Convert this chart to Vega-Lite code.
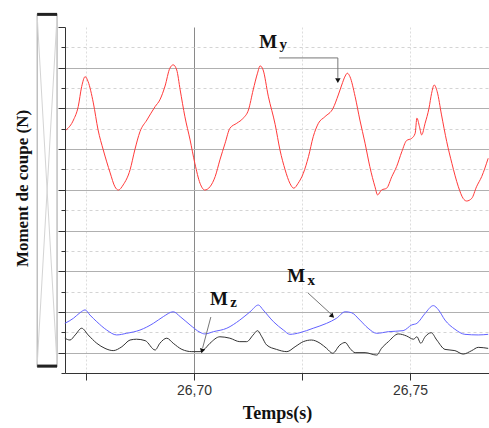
{
  "$schema": "https://vega.github.io/schema/vega-lite/v6.json",
  "width": 424,
  "height": 346,
  "autosize": {"type": "none"},
  "padding": {"left": 65, "top": 27, "right": 0, "bottom": 55},
  "background": "white",
  "config": {"view": {"stroke": null}},
  "datasets": {
    "curves": [
      {"s":"My","t":26.6704,"v":11.94},{"s":"My","t":26.6721,"v":12.43},{"s":"My","t":26.6732,"v":13.09},{"s":"My","t":26.674,"v":14.07},{"s":"My","t":26.6748,"v":14.56},{"s":"My","t":26.6755,"v":14.31},{"s":"My","t":26.6767,"v":13.27},{"s":"My","t":26.6778,"v":11.94},{"s":"My","t":26.679,"v":10.96},{"s":"My","t":26.6806,"v":9.83},{"s":"My","t":26.6817,"v":9.15},{"s":"My","t":26.6825,"v":8.99},{"s":"My","t":26.6836,"v":9.24},{"s":"My","t":26.6852,"v":9.98},{"s":"My","t":26.6863,"v":10.96},{"s":"My","t":26.6875,"v":11.86},{"s":"My","t":26.6891,"v":12.43},{"s":"My","t":26.691,"v":13.09},{"s":"My","t":26.6921,"v":13.42},{"s":"My","t":26.6933,"v":14.1},{"s":"My","t":26.6944,"v":14.97},{"s":"My","t":26.6952,"v":15.14},{"s":"My","t":26.696,"v":14.89},{"s":"My","t":26.6968,"v":13.91},{"s":"My","t":26.6979,"v":12.59},{"s":"My","t":26.6991,"v":11.45},{"s":"My","t":26.7002,"v":10.3},{"s":"My","t":26.7014,"v":9.32},{"s":"My","t":26.7025,"v":8.99},{"s":"My","t":26.7037,"v":9.15},{"s":"My","t":26.7049,"v":9.65},{"s":"My","t":26.706,"v":10.47},{"s":"My","t":26.7072,"v":11.29},{"s":"My","t":26.7083,"v":12.02},{"s":"My","t":26.7099,"v":12.27},{"s":"My","t":26.7114,"v":12.52},{"s":"My","t":26.7126,"v":12.92},{"s":"My","t":26.7137,"v":13.91},{"s":"My","t":26.7147,"v":14.73},{"s":"My","t":26.7153,"v":15.09},{"s":"My","t":26.716,"v":14.89},{"s":"My","t":26.7172,"v":13.6},{"s":"My","t":26.7188,"v":12.2},{"s":"My","t":26.7199,"v":10.96},{"s":"My","t":26.7211,"v":9.98},{"s":"My","t":26.7222,"v":9.32},{"s":"My","t":26.7231,"v":9.08},{"s":"My","t":26.7241,"v":9.32},{"s":"My","t":26.7253,"v":9.81},{"s":"My","t":26.7265,"v":10.63},{"s":"My","t":26.7276,"v":11.61},{"s":"My","t":26.7288,"v":12.27},{"s":"My","t":26.7303,"v":12.59},{"s":"My","t":26.7322,"v":13.01},{"s":"My","t":26.7334,"v":13.66},{"s":"My","t":26.7342,"v":14.15},{"s":"My","t":26.735,"v":14.59},{"s":"My","t":26.7355,"v":14.73},{"s":"My","t":26.7361,"v":14.56},{"s":"My","t":26.7373,"v":13.58},{"s":"My","t":26.7384,"v":12.43},{"s":"My","t":26.7396,"v":11.29},{"s":"My","t":26.7407,"v":10.14},{"s":"My","t":26.7419,"v":9.15},{"s":"My","t":26.7425,"v":8.75},{"s":"My","t":26.7434,"v":8.99},{"s":"My","t":26.7446,"v":9.08},{"s":"My","t":26.7458,"v":9.65},{"s":"My","t":26.7469,"v":10.14},{"s":"My","t":26.7481,"v":10.87},{"s":"My","t":26.7492,"v":11.42},{"s":"My","t":26.7504,"v":11.53},{"s":"My","t":26.7512,"v":11.78},{"s":"My","t":26.7516,"v":12.52},{"s":"My","t":26.7522,"v":12.1},{"s":"My","t":26.7527,"v":11.7},{"s":"My","t":26.7535,"v":12.27},{"s":"My","t":26.7544,"v":13.01},{"s":"My","t":26.755,"v":13.74},{"s":"My","t":26.7556,"v":14.15},{"s":"My","t":26.7563,"v":13.82},{"s":"My","t":26.7573,"v":12.68},{"s":"My","t":26.7585,"v":11.37},{"s":"My","t":26.7597,"v":10.3},{"s":"My","t":26.7612,"v":9.15},{"s":"My","t":26.7623,"v":8.58},{"s":"My","t":26.7631,"v":8.45},{"s":"My","t":26.7643,"v":8.58},{"s":"My","t":26.7654,"v":9.15},{"s":"My","t":26.7666,"v":9.65},{"s":"My","t":26.7681,"v":10.55},
      {"s":"Mx","t":26.6701,"v":2.44},{"s":"Mx","t":26.6721,"v":2.69},{"s":"Mx","t":26.6736,"v":2.96},{"s":"Mx","t":26.6748,"v":3.1},{"s":"Mx","t":26.6759,"v":2.85},{"s":"Mx","t":26.6775,"v":2.52},{"s":"Mx","t":26.6798,"v":2.11},{"s":"Mx","t":26.6821,"v":1.87},{"s":"Mx","t":26.6844,"v":1.95},{"s":"Mx","t":26.6875,"v":2.11},{"s":"Mx","t":26.6906,"v":2.44},{"s":"Mx","t":26.6929,"v":2.77},{"s":"Mx","t":26.6952,"v":3.01},{"s":"Mx","t":26.6968,"v":2.77},{"s":"Mx","t":26.6991,"v":2.36},{"s":"Mx","t":26.7014,"v":2.0},{"s":"Mx","t":26.7025,"v":1.92},{"s":"Mx","t":26.7045,"v":2.03},{"s":"Mx","t":26.7076,"v":2.2},{"s":"Mx","t":26.7106,"v":2.6},{"s":"Mx","t":26.713,"v":3.01},{"s":"Mx","t":26.7149,"v":3.34},{"s":"Mx","t":26.716,"v":3.1},{"s":"Mx","t":26.7184,"v":2.52},{"s":"Mx","t":26.7207,"v":2.11},{"s":"Mx","t":26.7222,"v":1.9},{"s":"Mx","t":26.7245,"v":1.98},{"s":"Mx","t":26.7276,"v":2.2},{"s":"Mx","t":26.7307,"v":2.44},{"s":"Mx","t":26.733,"v":2.69},{"s":"Mx","t":26.735,"v":3.01},{"s":"Mx","t":26.7365,"v":2.96},{"s":"Mx","t":26.7384,"v":2.6},{"s":"Mx","t":26.7403,"v":2.2},{"s":"Mx","t":26.7423,"v":1.95},{"s":"Mx","t":26.745,"v":2.03},{"s":"Mx","t":26.7484,"v":2.08},{"s":"Mx","t":26.7504,"v":2.36},{"s":"Mx","t":26.7516,"v":2.44},{"s":"Mx","t":26.7535,"v":2.93},{"s":"Mx","t":26.7554,"v":3.31},{"s":"Mx","t":26.7566,"v":3.1},{"s":"Mx","t":26.7581,"v":2.6},{"s":"Mx","t":26.7604,"v":2.15},{"s":"Mx","t":26.7627,"v":1.9},{"s":"Mx","t":26.7658,"v":1.87},{"s":"Mx","t":26.7681,"v":1.9},
      {"s":"Mz","t":26.6701,"v":1.71},{"s":"Mz","t":26.6713,"v":1.62},{"s":"Mz","t":26.6725,"v":1.87},{"s":"Mz","t":26.674,"v":2.2},{"s":"Mz","t":26.6755,"v":1.87},{"s":"Mz","t":26.6775,"v":1.46},{"s":"Mz","t":26.6794,"v":1.21},{"s":"Mz","t":26.6813,"v":1.1},{"s":"Mz","t":26.6833,"v":1.29},{"s":"Mz","t":26.6852,"v":1.62},{"s":"Mz","t":26.6867,"v":1.66},{"s":"Mz","t":26.6887,"v":1.59},{"s":"Mz","t":26.691,"v":1.13},{"s":"Mz","t":26.6921,"v":1.46},{"s":"Mz","t":26.6937,"v":1.71},{"s":"Mz","t":26.6952,"v":1.46},{"s":"Mz","t":26.6972,"v":1.16},{"s":"Mz","t":26.6995,"v":1.05},{"s":"Mz","t":26.7014,"v":1.05},{"s":"Mz","t":26.7022,"v":1.13},{"s":"Mz","t":26.7037,"v":1.46},{"s":"Mz","t":26.706,"v":1.78},{"s":"Mz","t":26.7083,"v":1.71},{"s":"Mz","t":26.7106,"v":1.54},{"s":"Mz","t":26.7122,"v":1.54},{"s":"Mz","t":26.7137,"v":1.87},{"s":"Mz","t":26.7147,"v":2.08},{"s":"Mz","t":26.7157,"v":1.78},{"s":"Mz","t":26.7168,"v":1.38},{"s":"Mz","t":26.7191,"v":1.16},{"s":"Mz","t":26.7215,"v":1.05},{"s":"Mz","t":26.7234,"v":1.29},{"s":"Mz","t":26.7253,"v":1.54},{"s":"Mz","t":26.7272,"v":1.62},{"s":"Mz","t":26.7292,"v":1.46},{"s":"Mz","t":26.7307,"v":1.21},{"s":"Mz","t":26.7321,"v":0.97},{"s":"Mz","t":26.7338,"v":1.38},{"s":"Mz","t":26.735,"v":1.5},{"s":"Mz","t":26.7361,"v":1.21},{"s":"Mz","t":26.7373,"v":1.0},{"s":"Mz","t":26.7396,"v":1.0},{"s":"Mz","t":26.7423,"v":0.88},{"s":"Mz","t":26.7434,"v":1.21},{"s":"Mz","t":26.745,"v":1.54},{"s":"Mz","t":26.7473,"v":1.92},{"s":"Mz","t":26.7492,"v":1.82},{"s":"Mz","t":26.7508,"v":1.66},{"s":"Mz","t":26.7516,"v":1.78},{"s":"Mz","t":26.7525,"v":1.46},{"s":"Mz","t":26.7535,"v":1.78},{"s":"Mz","t":26.7549,"v":1.98},{"s":"Mz","t":26.7562,"v":1.62},{"s":"Mz","t":26.7581,"v":1.16},{"s":"Mz","t":26.7604,"v":1.1},{"s":"Mz","t":26.7623,"v":0.93},{"s":"Mz","t":26.7643,"v":1.1},{"s":"Mz","t":26.7658,"v":1.26},{"s":"Mz","t":26.7681,"v":1.21}
    ]
  },
  "encoding": {
    "x": {
      "field": "t", "type": "quantitative",
      "scale": {"domain": [26.67014, 26.76829], "nice": false, "zero": false},
      "axis": {
        "values": [26.675, 26.7, 26.725, 26.75],
        "labelExpr": "abs(datum.value - 26.7) < 0.001 ? '26,70' : (abs(datum.value - 26.75) < 0.001 ? '26,75' : '')",
        "labelFont": "Liberation Sans", "labelFontSize": 14, "labelColor": "#333",
        "labelPadding": 3,
        "tickSize": 7, "tickColor": "#333", "domainColor": "#333",
        "grid": true,
        "gridColor": {"condition": {"test": "abs(datum.value - 26.7) < 0.001", "value": "#8a8a8a"}, "value": "#dddddd"},
        "gridDash": {"condition": {"test": "abs(datum.value - 26.7) < 0.001", "value": []}, "value": [2, 2]},
        "title": "Temps(s)",
        "titleFont": "Liberation Serif", "titleFontSize": 18, "titleFontWeight": "bold", "titleColor": "#111",
        "titleBaseline": "alphabetic", "titleY": 45
      }
    },
    "y": {
      "field": "v", "type": "quantitative",
      "scale": {"domain": [0, 17], "nice": false, "zero": false},
      "axis": {
        "values": [0,1,2,3,4,5,6,7,8,9,10,11,12,13,14,15,16,17],
        "labels": false,
        "tickColor": "#333", "domainColor": "#333",
        "tickSize": {"condition": {"test": "datum.value % 2 == 1", "value": 7}, "value": 4},
        "grid": true,
        "gridColor": {"condition": {"test": "datum.value % 2 == 1", "value": "#b0b0b0"}, "value": "#d4d4d4"},
        "gridDash": {"condition": {"test": "datum.value % 2 == 1", "value": []}, "value": [3, 3]},
        "gridOpacity": {"condition": {"test": "datum.value == 0 || datum.value == 17", "value": 0}, "value": 1},
        "title": "Moment de coupe (N)",
        "titleFont": "Liberation Serif", "titleFontSize": 17, "titleFontWeight": "bold", "titleColor": "#111",
        "titleAngle": -90, "titleX": -43, "titleY": 161, "titleAlign": "center", "titleBaseline": "middle"
      }
    }
  },
  "layer": [
    {
      "data": {"values": [{"t": 26.6637, "t2": 26.6683, "v": 0.3, "v2": 17.65}]},
      "mark": {"type": "rect", "fill": "white", "stroke": "#a0a0a0", "strokeWidth": 1},
      "encoding": {"x2": {"field": "t2"}, "y2": {"field": "v2"}}
    },
    {
      "data": {"values": [{"t": 26.6637, "v": 17.55, "t2": 26.6683, "v2": 0.4}, {"t": 26.6683, "v": 17.55, "t2": 26.6637, "v2": 0.4}]},
      "mark": {"type": "rule", "color": "#d4d4d4", "strokeWidth": 1},
      "encoding": {"x2": {"field": "t2"}, "y2": {"field": "v2"}}
    },
    {
      "data": {"values": [{"t": 26.6637, "t2": 26.6683, "v": 17.62, "v2": 17.62}, {"t": 26.6637, "t2": 26.6683, "v": 0.34, "v2": 0.34}]},
      "mark": {"type": "rule", "color": "#222", "strokeWidth": 3},
      "encoding": {"x2": {"field": "t2"}, "y2": {"field": "v2"}}
    },
    {
      "data": {"name": "curves"},
      "mark": {"type": "line", "strokeWidth": 1, "interpolate": "monotone"},
      "encoding": {
        "color": {"field": "s", "type": "nominal", "scale": {"domain": ["My", "Mx", "Mz"], "range": ["#ff3a3a", "#6262ff", "#333333"]}, "legend": null}
      }
    },
    {
      "data": {"values": [
        {"t": 26.7197, "v": 15.48, "t2": 26.7333, "v2": 15.48},
        {"t": 26.7333, "v": 15.48, "t2": 26.7333, "v2": 14.5},
        {"t": 26.7264, "v": 3.93, "t2": 26.7317, "v2": 2.9},
        {"t": 26.7039, "v": 2.75, "t2": 26.702, "v2": 1.23}
      ]},
      "mark": {"type": "rule", "color": "#777", "strokeWidth": 1},
      "encoding": {"x2": {"field": "t2"}, "y2": {"field": "v2"}}
    },
    {
      "data": {"values": [{"t": 26.7333, "v": 14.4}]},
      "mark": {"type": "point", "shape": "triangle", "angle": 180, "filled": true, "color": "#111", "size": 30, "opacity": 1}
    },
    {
      "data": {"values": [{"t": 26.7319, "v": 2.82}]},
      "mark": {"type": "point", "shape": "triangle", "angle": 133, "filled": true, "color": "#111", "size": 30, "opacity": 1}
    },
    {
      "data": {"values": [{"t": 26.7019, "v": 1.12}]},
      "mark": {"type": "point", "shape": "triangle", "angle": 195, "filled": true, "color": "#111", "size": 30, "opacity": 1}
    },
    {
      "data": {"values": [{"t": 26.7151, "v": 15.97, "label": "M"}, {"t": 26.7216, "v": 4.47, "label": "M"}, {"t": 26.7037, "v": 3.34, "label": "M"}]},
      "mark": {"type": "text", "font": "Liberation Serif", "fontSize": 19, "fontWeight": "bold", "align": "left", "baseline": "alphabetic", "color": "#111"},
      "encoding": {"text": {"field": "label"}}
    },
    {
      "data": {"values": [{"t": 26.7198, "v": 15.9, "label": "y"}, {"t": 26.7263, "v": 4.32, "label": "x"}, {"t": 26.7084, "v": 3.22, "label": "z"}]},
      "mark": {"type": "text", "font": "Liberation Serif", "fontSize": 15, "fontWeight": "bold", "align": "left", "baseline": "alphabetic", "color": "#111"},
      "encoding": {"text": {"field": "label"}}
    }
  ]
}
